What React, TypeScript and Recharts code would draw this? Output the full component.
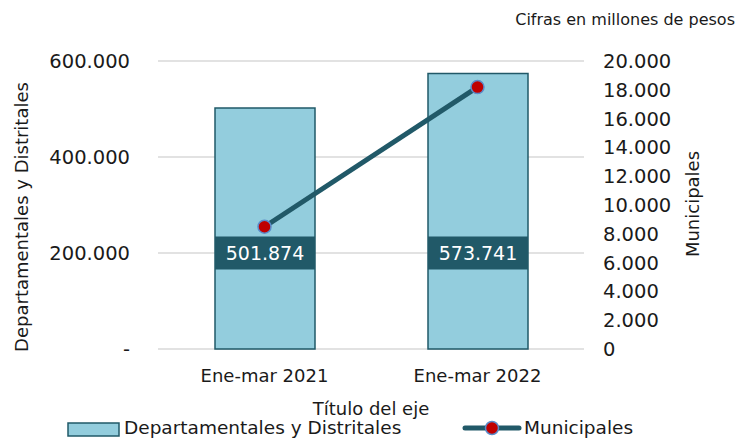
import React from "react";
import {
  Bar,
  CartesianGrid,
  ComposedChart,
  LabelList,
  Legend,
  Line,
  XAxis,
  YAxis,
} from "recharts";

const periods = ["Ene-mar 2021", "Ene-mar 2022"];
const departamentales = [501874, 573741];
const municipales = [8490, 18190];
const leftTicks = [0, 200000, 400000, 600000];
const rightTicks = [0, 2000, 4000, 6000, 8000, 10000, 12000, 14000, 16000, 18000, 20000];

const FONT = "'DejaVu Sans', Verdana, sans-serif";
const BAR_FILL = "#93CDDD";
const TEAL = "#215968";
const INK = "#1a1a1a";

const data = periods.map((p, i) => ({
  period: p,
  dep: departamentales[i],
  mun: municipales[i],
}));

function fmt(n: number): string {
  return String(Math.round(n)).replace(/\B(?=(\d{3})+(?!\d))/g, ".");
}

function DataLabel(props: any) {
  const { x, y, width, height, value } = props;
  const cx = x + width / 2;
  const cy = y + height - 96;
  return (
    <g>
      <rect x={cx - 50} y={cy - 16.5} width={100} height={33} fill={TEAL} />
      <text
        x={cx}
        y={cy}
        textAnchor="middle"
        dominantBaseline="central"
        fill="#fff"
        fontSize={19}
        fontFamily={FONT}
      >
        {fmt(value)}
      </text>
    </g>
  );
}

function SideTitle({ viewBox, value, dx, dy }: any) {
  const cx = viewBox.x + dx;
  const cy = viewBox.y + viewBox.height / 2 + dy;
  return (
    <text
      x={cx}
      y={cy}
      transform={`rotate(-90, ${cx}, ${cy})`}
      textAnchor="middle"
      dominantBaseline="central"
      fontSize={18}
      fontFamily={FONT}
      fill={INK}
    >
      {value}
    </text>
  );
}

function ChartLegend() {
  const text = { position: "absolute" as const, top: 0, lineHeight: "22px", fontSize: 18.5, fontFamily: FONT, color: INK, whiteSpace: "nowrap" as const };
  return (
    <div style={{ position: "relative", width: 736, height: 22 }}>
      <svg style={{ position: "absolute", left: 67, top: 5 }} width={53} height={15}>
        <rect x={1} y={1} width={51} height={13} fill={BAR_FILL} stroke={TEAL} strokeWidth={1.5} />
      </svg>
      <span style={{ ...text, left: 124 }}>Departamentales y Distritales</span>
      <svg style={{ position: "absolute", left: 462, top: 3 }} width={60} height={16}>
        <line x1={3} y1={8} x2={57} y2={8} stroke={TEAL} strokeWidth={5} strokeLinecap="round" />
        <circle cx={30} cy={8} r={6.5} fill="#C00000" stroke="#5B8BC9" strokeWidth={1.5} />
      </svg>
      <span style={{ ...text, left: 524 }}>Municipales</span>
    </div>
  );
}

export default function App() {
  const numTick = { fontSize: 19.5, fontFamily: FONT, fill: INK };
  const catTick = { fontSize: 18, fontFamily: FONT, fill: INK };
  return (
    <div style={{ position: "absolute", left: 0, top: 0, width: 736, height: 440, background: "#fff" }}>
      <div
        style={{
          position: "absolute",
          right: 1,
          top: 10,
          fontSize: 16,
          lineHeight: "20px",
          fontFamily: FONT,
          color: INK,
          whiteSpace: "nowrap",
        }}
      >
        Cifras en millones de pesos
      </div>
      <ComposedChart
        width={736}
        height={440}
        data={data}
        margin={{ top: 61, right: 0, bottom: 1, left: 0 }}
      >
        <CartesianGrid yAxisId="left" vertical={false} stroke="#D9D9D9" strokeWidth={1.5} />
        <XAxis
          dataKey="period"
          axisLine={false}
          tickLine={false}
          tickSize={0}
          tickMargin={20}
          height={68}
          tick={catTick}
          label={{
            value: "Título del eje",
            position: "insideBottom",
            offset: 2,
            fontSize: 18,
            fontFamily: FONT,
            fill: INK,
          }}
        />
        <YAxis
          yAxisId="left"
          orientation="left"
          width={158}
          domain={[0, 600000]}
          ticks={leftTicks}
          axisLine={false}
          tickLine={false}
          tickSize={0}
          tickMargin={28}
          tick={numTick}
          tickFormatter={(v: number) => (v === 0 ? "-" : fmt(v))}
          label={<SideTitle value="Departamentales y Distritales" dx={21.5} dy={12} />}
        />
        <YAxis
          yAxisId="right"
          orientation="right"
          width={152}
          domain={[0, 20000]}
          ticks={rightTicks}
          axisLine={false}
          tickLine={false}
          tickSize={0}
          tickMargin={19}
          tick={{ ...numTick, textAnchor: "start" }}
          tickFormatter={(v: number) => fmt(v)}
          interval={0}
          label={<SideTitle value="Municipales" dx={108} dy={-1} />}
        />
        <Legend verticalAlign="bottom" height={22} content={() => <ChartLegend />} />
        <Bar
          yAxisId="left"
          dataKey="dep"
          name="Departamentales y Distritales"
          barSize={100}
          fill={BAR_FILL}
          stroke={TEAL}
          strokeWidth={1.5}
          isAnimationActive={false}
        >
          <LabelList dataKey="dep" content={DataLabel} />
        </Bar>
        <Line
          yAxisId="right"
          dataKey="mun"
          name="Municipales"
          stroke={TEAL}
          strokeWidth={5}
          dot={{ r: 6.5, fill: "#C00000", stroke: "#5B8BC9", strokeWidth: 1.5 }}
          activeDot={false}
          isAnimationActive={false}
        />
      </ComposedChart>
    </div>
  );
}
